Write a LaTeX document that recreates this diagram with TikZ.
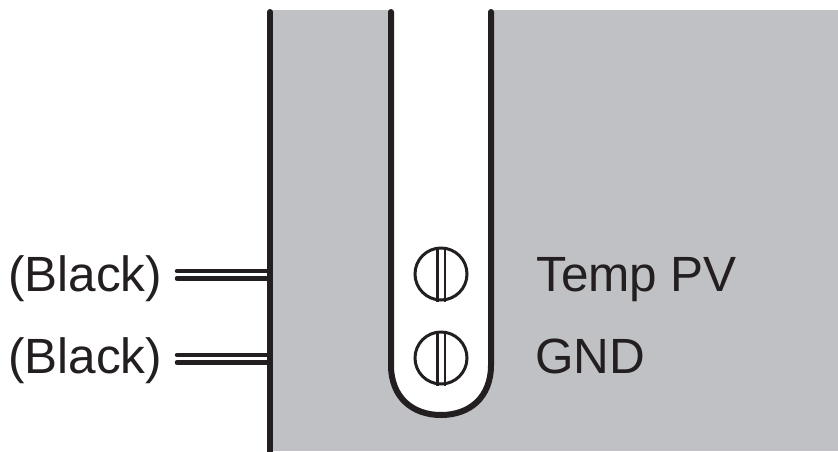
\documentclass[tikz,border=0pt]{standalone}
\usepackage{fontspec}
\setmainfont{Liberation Sans}
\usetikzlibrary{calc}
\definecolor{panelgray}{RGB}{192,193,197}
\definecolor{ink}{RGB}{35,31,32}
\begin{document}
\begin{tikzpicture}[x=1pt,y=-1pt,
  wall/.style={draw=ink,line width=6pt,line cap=round},
  wire/.style={draw=ink,line width=4.5pt,line cap=round},
  screw/.style={circle,draw=ink,line width=3pt,minimum size=52pt,inner sep=0pt},
  lbl/.style={font=\fontsize{49.5}{49.5}\selectfont,text=ink,inner sep=0pt,anchor=base west}]
\useasboundingbox (0,0) rectangle (838,451);
% panel
\fill[panelgray] (270,10) rectangle (838,451);
% slot interior
\fill[white] (391,10) -- (391,365) .. controls (391,398) and (413,415) .. (441,415)
  .. controls (469,415) and (491,398) .. (491,365) -- (491,10) -- cycle;
% outlines
\coordinate (wallTop) at (270,12);
\coordinate (wallBot) at (270,455);
\draw[wall] (wallTop) -- (wallBot);
\draw[wall,line join=round] (391,12) -- (391,365) .. controls (391,398) and (413,415) .. (441,415)
  .. controls (469,415) and (491,398) .. (491,365) -- (491,12);
% screws
\foreach \n/\y in {s1/274,s2/358}{
  \node[screw] (\n) at (441,\y) {};
  \draw[ink,line width=2.4pt] ($(\n.north)+(-3.7,0)$) -- ($(\n.south)+(-3.7,0)$);
  \draw[ink,line width=2.4pt] ($(\n.north)+(3.7,0)$) -- ($(\n.south)+(3.7,0)$);
}
% wires
\coordinate (w1a) at (177,271); \coordinate (w1b) at (268,271);
\coordinate (w2a) at (177,278.5); \coordinate (w2b) at (268,278.5);
\coordinate (w3a) at (177,355); \coordinate (w3b) at (268,355);
\coordinate (w4a) at (177,362.5); \coordinate (w4b) at (268,362.5);
\draw[wire] (w1a) -- (w1b);
\draw[wire] (w2a) -- (w2b);
\draw[wire] (w3a) -- (w3b);
\draw[wire] (w4a) -- (w4b);
% labels
\node[lbl] (b1) at (8,291) {(Black)};
\node[lbl] (b2) at (8,373) {(Black)};
\node[lbl] (t1) at (536,291) {Temp PV};
\node[lbl] (t2) at (535,373) {GND};
\end{tikzpicture}
\end{document}
